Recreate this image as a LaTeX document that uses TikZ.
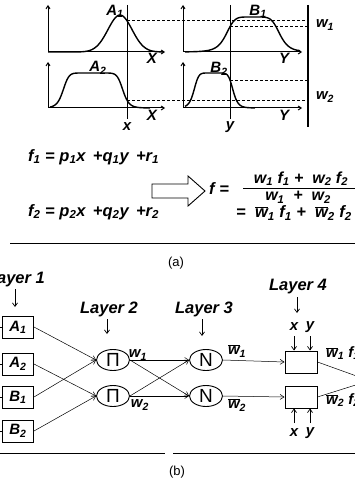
\documentclass[tikz,border=0pt]{standalone}
\usepackage{fontspec}
\setmainfont{Liberation Sans}
\usetikzlibrary{arrows.meta,shapes.geometric}
\newcommand\wbar{$\overline{\mbox{w}}$}
\begin{document}
\begin{tikzpicture}[x=1pt,y=-1pt,
  lbl/.style={font=\fontsize{15}{15}\selectfont\bfseries\itshape, inner sep=0pt},
  eqn/.style={font=\fontsize{16.5}{16.5}\selectfont\bfseries\itshape, inner sep=0pt},
  fraceqn/.style={font=\fontsize{16}{16}\selectfont\bfseries\itshape, inner sep=0pt},
  layerlbl/.style={font=\fontsize{16.5}{16.5}\selectfont\bfseries\itshape, inner sep=0pt},
  captxt/.style={font=\fontsize{13}{13}\selectfont, inner sep=0pt},
  axis/.style={line width=1pt, -{Straight Barb[length=3pt,width=4pt]}},
  curve/.style={line width=1.4pt, smooth},
  dsh/.style={line width=0.7pt, dash pattern=on 3pt off 2pt},
  inbox/.style={draw, line width=1pt, minimum width=31pt, minimum height=22pt, inner sep=0pt,
     font=\fontsize{15}{15}\selectfont\bfseries\itshape},
  outbox/.style={draw, line width=1pt, minimum width=32pt, minimum height=22pt, inner sep=0pt},
  circ/.style={draw, ellipse, line width=0.9pt, minimum width=33pt, minimum height=21pt, inner sep=0pt,
     font=\fontsize{19}{19}\selectfont\mdseries\upshape},
  conn/.style={line width=0.5pt, -{Straight Barb[length=4pt,width=5pt]}},
  darr/.style={line width=0.7pt, -{Straight Barb[length=3.5pt,width=5pt]}}
]
\useasboundingbox (0,0) rectangle (355,484);
\clip (0,0) rectangle (355,484);
\fill[white] (0,0) rectangle (355,484);

% ---------- (a) membership functions ----------
\coordinate (oA1) at (48,52);  \coordinate (oA2) at (48,108);
\coordinate (oB1) at (183,52); \coordinate (oB2) at (183,108);
\draw[axis] (oA1) -- (48,5);  \draw[axis] (oA1) -- (165,52);
\draw[axis] (oA2) -- (48,62); \draw[axis] (oA2) -- (165,108);
\draw[axis] (oB1) -- (183,5); \draw[axis] (oB1) -- (302,52);
\draw[axis] (oB2) -- (183,62); \draw[axis] (oB2) -- (302,108);

\draw[curve, domain=48:163, samples=90] plot (\x, {52-37*exp(-((\x-120)/17)^2)});
\draw[curve, domain=50:150, samples=90] plot (\x, {108-35/(1+(abs((\x-93)/30))^10)});
\draw[curve, domain=185:300, samples=90] plot (\x, {52-35/(1+(abs((\x-253)/27))^6)});
\draw[curve, domain=185:255, samples=90] plot (\x, {108-35/(1+(abs((\x-213.5)/19.6))^8)});

\coordinate (xt) at (127,5);   \coordinate (xb) at (127,119);
\coordinate (yt) at (230,5);   \coordinate (yb) at (230,119);
\draw[line width=0.9pt] (xt) -- (xb);
\draw[line width=0.9pt] (yt) -- (yb);
\node[lbl] (xlab) at (127,127) {x};
\node[lbl] (ylab) at (230,127) {y};

\coordinate (bt) at (308,5); \coordinate (bb) at (308,127);
\draw[line width=1.5pt] (bt) -- (bb);

\draw[dsh] (127,20.8) -- (307,20.8);
\draw[dsh] (230,26.7) -- (307,26.7);
\draw[dsh] (230,80) -- (307,80);
\draw[dsh] (127,100.2) -- (307,100.2);

\node[lbl] (lA1) at (115,11) {A\textsubscript{1}};
\node[lbl] (lA2) at (98,68) {A\textsubscript{2}};
\node[lbl] (lB1) at (258,11) {B\textsubscript{1}};
\node[lbl] (lB2) at (219,69) {B\textsubscript{2}};
\node[lbl] (lX1) at (152,58) {X};
\node[lbl] (lX2) at (152,115) {X};
\node[lbl] (lY1) at (284,58) {Y};
\node[lbl] (lY2) at (284,115) {Y};
\node[lbl] (lw1) at (325,25) {w\textsubscript{1}};
\node[lbl] (lw2) at (325,97) {w\textsubscript{2}};

% ---------- equations ----------
\node[eqn, anchor=west] (eq1) at (28,157) {f\textsubscript{1} = p\textsubscript{1}x \,+q\textsubscript{1}y \,+r\textsubscript{1}};
\node[eqn, anchor=west] (eq2) at (28,212) {f\textsubscript{2} = p\textsubscript{2}x \,+q\textsubscript{2}y \,+r\textsubscript{2}};
\draw[line width=0.9pt] (152,184) -- (188,184) -- (188,176) -- (205,191) -- (188,206) -- (188,198) -- (152,198) -- cycle;
\node[eqn, anchor=west] (feq) at (209,189) {f =};
\node[fraceqn] (num) at (301,178.5) {w\textsubscript{1} f\textsubscript{1} + \ w\textsubscript{2} f\textsubscript{2}};
\node[fraceqn] (den) at (298,197.5) {w\textsubscript{1} \ + \ w\textsubscript{2}};
\draw[line width=0.8pt] (243,188) -- (355,188);
\node[eqn, anchor=west] (eq3) at (236,213) {= \ \wbar\textsubscript{1} f\textsubscript{1} + \ \wbar\textsubscript{2} f\textsubscript{2}};

\draw[line width=1pt] (10,243) -- (355,243);
\node[captxt] (capa) at (176,263) {(a)};

% ---------- (b) network ----------
\node[layerlbl, anchor=east] (L1) at (45,280) {Layer 1};
\node[layerlbl] (L2) at (109,309) {Layer 2};
\node[layerlbl] (L3) at (204,309) {Layer 3};
\node[layerlbl] (L4) at (298,287) {Layer 4};
\coordinate (a1t) at (15,289); \coordinate (a1b) at (15,307);
\coordinate (a2t) at (107,319); \coordinate (a2b) at (107,334);
\coordinate (a3t) at (202,319); \coordinate (a3b) at (202,336);
\coordinate (a4t) at (297,297); \coordinate (a4b) at (297,313);
\draw[darr] (a1t) -- (a1b);
\draw[darr] (a2t) -- (a2b);
\draw[darr] (a3t) -- (a3b);
\draw[darr] (a4t) -- (a4b);

\node[inbox] (A1) at (18,327) {A\textsubscript{1}};
\node[inbox] (A2) at (18,364) {A\textsubscript{2}};
\node[inbox] (B1) at (18,397) {B\textsubscript{1}};
\node[inbox] (B2) at (18,431) {B\textsubscript{2}};
\foreach \n/\yy in {A1/327,A2/364,B1/397,B2/431}{
  \coordinate (in\n) at (-5,\yy);
  \draw[line width=0.6pt] (in\n) -- (\n.west);
}

\node[circ] (P1) at (113,360) {Π};
\node[circ] (P2) at (113,396) {Π};
\node[circ] (N1) at (206,360) {N};
\node[circ] (N2) at (206,396) {N};

\draw[conn] (A1.east) -- (P1.west);
\draw[conn] (B1.east) -- (P1.west);
\draw[conn] (A2.east) -- (P2.west);
\draw[conn] (B2.east) -- (P2.west);

\draw[conn] (P1.east) -- (N1.west);
\draw[conn] (P2.east) -- (N1.west);
\draw[conn] (P1.east) -- (N2.west);
\draw[conn] (P2.east) -- (N2.west);

\node[lbl] (wl1) at (138,355) {w\textsubscript{1}};
\node[lbl] (wl2) at (140,405) {w\textsubscript{2}};
\node[lbl] (wn1) at (237,351) {\wbar\textsubscript{1}};
\node[lbl] (wn2) at (237,405) {\wbar\textsubscript{2}};

\node[outbox] (C1) at (301,362) {};
\node[outbox] (C2) at (301,397) {};
\draw[conn] (N1.east) -- (C1.west);
\draw[conn] (N2.east) -- (C2.west);

\node[lbl] (x4a) at (294,327) {x};
\node[lbl] (y4a) at (310,327) {y};
\coordinate (t1) at (294,336); \coordinate (t2) at (310,336);
\coordinate (t3) at (294,423); \coordinate (t4) at (310,423);
\draw[darr] (t1) -- (t1 |- C1.north);
\draw[darr] (t2) -- (t2 |- C1.north);
\node[lbl] (x4b) at (294,433) {x};
\node[lbl] (y4b) at (310,433) {y};
\draw[darr] (t3) -- (t3 |- C2.south);
\draw[darr] (t4) -- (t4 |- C2.south);

\coordinate (sum1) at (362,378);
\coordinate (sum2) at (362,383);
\draw[line width=0.5pt] (C1.east) -- (sum1);
\draw[line width=0.5pt] (C2.east) -- (sum2);
\node[lbl, anchor=west] (o1) at (326,353) {\wbar\textsubscript{1} f\textsubscript{1}};
\node[lbl, anchor=west] (o2) at (326,400) {\wbar\textsubscript{2} f\textsubscript{2}};

\draw[line width=1pt] (0,453) -- (165,453);
\draw[line width=1pt] (173,453) -- (355,453);
\node[captxt] (capb) at (177,472) {(b)};
\end{tikzpicture}
\end{document}
